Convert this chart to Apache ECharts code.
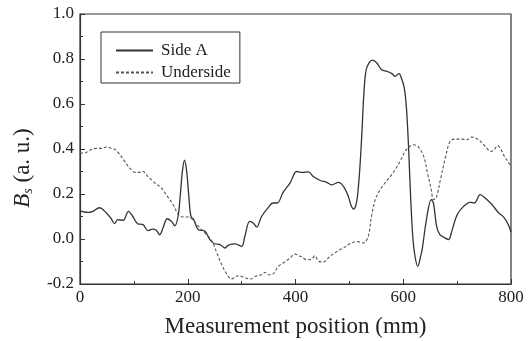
<!DOCTYPE html>
<html>
<head>
<meta charset="utf-8">
<script src="https://cdn.jsdelivr.net/npm/echarts@6/dist/echarts.min.js"></script>
<style>
html,body{margin:0;padding:0;background:#fff;}
#chart{width:532px;height:341px;}
</style>
</head>
<body>
<div id="chart"></div>
<script>
const seriesNames = ['Side A', 'Underside'];
const xTicks = [0, 200, 400, 600, 800];
const yTicks = [-0.2, 0.0, 0.2, 0.4, 0.6, 0.8, 1.0];

const sideAX = [0,8,15,24,36,49,58,64,70,80,90,98,107,117,126,135,142,148,154,162,170,176,182,186,190,194,198,202,206,211,216,220,232,241,250,260,269,275,288,300,306,315,322,328,337,350,358,366,377,390,402,412,424,433,446,458,467,480,489,498,503,508,512,515,519,523,527,531,537,543,551,560,570,579,585,592,597,602,606,610,614,618,622,627,632,635,644,652,656,662,668,678,684,690,700,712,724,732,743,752,765,777,786,795,800];
const sideAY = [0.125,0.12,0.118,0.123,0.139,0.116,0.09,0.068,0.086,0.083,0.123,0.10,0.068,0.064,0.037,0.044,0.038,0.019,0.049,0.09,0.078,0.059,0.10,0.19,0.30,0.35,0.30,0.19,0.10,0.086,0.056,0.041,0.034,-0.003,-0.021,-0.025,-0.04,-0.028,-0.022,-0.033,0.012,0.078,0.07,0.053,0.10,0.142,0.16,0.16,0.207,0.249,0.30,0.296,0.298,0.278,0.26,0.252,0.241,0.252,0.234,0.19,0.15,0.133,0.15,0.19,0.30,0.46,0.65,0.75,0.785,0.795,0.782,0.752,0.745,0.735,0.723,0.735,0.712,0.67,0.58,0.40,0.17,0.0,-0.08,-0.122,-0.08,-0.048,0.10,0.175,0.16,0.056,0.019,0.004,-0.003,0.034,0.108,0.145,0.163,0.16,0.197,0.182,0.152,0.116,0.098,0.064,0.03];

const underX = [0,9,18,30,40,49,58,66,74,83,92,103,111,117,126,139,151,160,173,182,190,201,208,217,229,241,248,254,263,272,281,294,303,316,328,337,344,350,359,368,381,390,399,409,421,430,436,443,452,464,477,489,501,514,526,535,541,548,557,566,576,585,594,604,611,619,628,638,645,652,656,661,669,678,687,696,709,718,727,740,752,763,769,775,780,786,792,800];
const underY = [0.382,0.382,0.394,0.403,0.403,0.409,0.403,0.397,0.375,0.345,0.316,0.296,0.296,0.30,0.278,0.249,0.227,0.197,0.152,0.111,0.098,0.098,0.09,0.064,0.034,0.004,-0.025,-0.062,-0.114,-0.154,-0.178,-0.163,-0.169,-0.178,-0.163,-0.159,-0.148,-0.159,-0.154,-0.122,-0.10,-0.084,-0.067,-0.077,-0.092,-0.089,-0.074,-0.099,-0.102,-0.077,-0.055,-0.04,-0.021,-0.011,-0.018,0.012,0.10,0.175,0.219,0.249,0.278,0.308,0.345,0.392,0.41,0.419,0.409,0.367,0.293,0.219,0.175,0.182,0.264,0.36,0.434,0.444,0.444,0.441,0.453,0.441,0.412,0.389,0.397,0.415,0.404,0.375,0.352,0.323];

const FONT = "'Liberation Serif','Times New Roman',serif";
const AX = '#333';

const chart = echarts.init(document.getElementById('chart'), null, {renderer: 'canvas'});
chart.setOption({
  animation: false,
  backgroundColor: '#fff',
  textStyle: {fontFamily: FONT},
  grid: {left: 80, right: 21, top: 14, bottom: 57, show: true, borderColor: AX, borderWidth: 1.2,
    containLabel: false, outerBoundsMode: 'none'},
  legend: {
    data: seriesNames,
    orient: 'vertical',
    left: 101, top: 32,
    itemWidth: 37, itemHeight: 14, itemGap: 5,
    padding: [10, 9, 2, 14],
    borderColor: AX, borderWidth: 1,
    itemStyle: {opacity: 0},
    textStyle: {fontFamily: FONT, fontSize: 17, color: '#222', padding: [0, 0, 0, 3]}
  },
  xAxis: {
    type: 'value', min: xTicks[0], max: xTicks[xTicks.length - 1], interval: 200,
    name: 'Measurement position (mm)', nameLocation: 'middle', nameGap: 31,
    nameTextStyle: {fontFamily: FONT, fontSize: 23, color: '#222'},
    axisLine: {show: true, onZero: false, lineStyle: {color: AX, width: 1.2}},
    axisTick: {show: true, inside: true, length: 5, lineStyle: {color: AX}},
    minorTick: {show: true, splitNumber: 2, length: 3, lineStyle: {color: AX}},
    splitLine: {show: false},
    axisLabel: {fontFamily: FONT, fontSize: 17, color: '#222', margin: 5}
  },
  yAxis: {
    type: 'value', min: yTicks[0], max: yTicks[yTicks.length - 1], interval: 0.2,
    name: '{b|B}{s|s}{n| (a. u.)}', nameLocation: 'middle', nameGap: 45, nameRotate: 90,
    nameTextStyle: {
      fontFamily: FONT, fontSize: 23, color: '#222', padding: [0, 38, 0, 0],
      rich: {
        b: {fontFamily: FONT, fontSize: 23, fontStyle: 'italic', color: '#222'},
        s: {fontFamily: FONT, fontSize: 14, fontStyle: 'italic', color: '#222', padding: [10, 0, 0, 0]},
        n: {fontFamily: FONT, fontSize: 23, color: '#222'}
      }
    },
    axisLine: {show: true, onZero: false, lineStyle: {color: AX, width: 1.2}},
    axisTick: {show: true, inside: true, length: 5, lineStyle: {color: AX}},
    minorTick: {show: true, splitNumber: 2, length: 3, lineStyle: {color: AX}},
    splitLine: {show: false},
    axisLabel: {fontFamily: FONT, fontSize: 17, color: '#222', margin: 6,
      formatter: v => v.toFixed(1)}
  },
  series: [
    {
      name: seriesNames[0], type: 'line', symbol: 'none', smooth: 0.35,
      data: sideAX.map((x, i) => [x, sideAY[i]]),
      lineStyle: {color: '#333', width: 1.3, type: 'solid'},
      itemStyle: {color: '#333'}
    },
    {
      name: seriesNames[1], type: 'line', symbol: 'none', smooth: 0.35,
      data: underX.map((x, i) => [x, underY[i]]),
      lineStyle: {color: '#555', width: 1.1, type: [3, 2]},
      itemStyle: {color: '#555'}
    }
  ]
});
</script>
</body>
</html>
